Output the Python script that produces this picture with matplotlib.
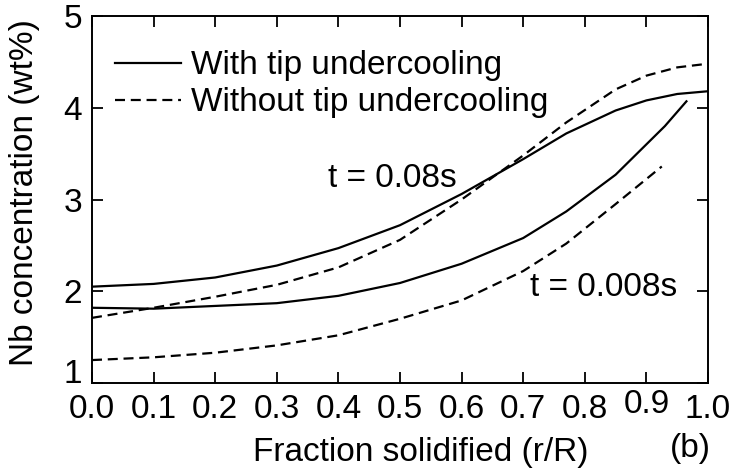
import matplotlib
matplotlib.use("Agg")
import matplotlib.pyplot as plt
from matplotlib import transforms

plt.rcParams.update({
    "font.family": ["Liberation Sans", "DejaVu Sans"], "font.size": 24,
    "axes.linewidth": 1.4,
})

# t = 0.08 s, fraction solidified (r/R) vs Nb wt%
x_08 = [0.0, 0.1, 0.2, 0.3, 0.4, 0.5, 0.6, 0.7, 0.77, 0.85, 0.9, 0.95, 1.0]
with_08 = [2.05, 2.08, 2.15, 2.28, 2.47, 2.72, 3.06, 3.44, 3.72, 3.97, 4.08, 4.15, 4.18]
without_08 = [1.71, 1.82, 1.94, 2.07, 2.26, 2.56, 3.00, 3.48, 3.84, 4.20, 4.35, 4.44, 4.48]
# t = 0.008 s
x_with_008 = [0.0, 0.1, 0.2, 0.3, 0.4, 0.5, 0.6, 0.7, 0.77, 0.85, 0.93, 0.965]
with_008 = [1.82, 1.81, 1.84, 1.87, 1.95, 2.09, 2.30, 2.58, 2.87, 3.27, 3.80, 4.07]
x_without_008 = [0.0, 0.1, 0.2, 0.3, 0.4, 0.5, 0.6, 0.7, 0.77, 0.85, 0.925]
without_008 = [1.25, 1.28, 1.33, 1.41, 1.52, 1.70, 1.90, 2.22, 2.52, 2.95, 3.36]

xticks = [0.0, 0.1, 0.2, 0.3, 0.4, 0.5, 0.6, 0.7, 0.8, 0.9, 1.0]
yticks = [1, 2, 3, 4, 5]

fig = plt.figure(figsize=(7.34, 4.71), dpi=100)
ax = fig.add_axes([92 / 734, 1 - 383 / 471, 616 / 734, 367 / 471])

lw = 1.6
dash = (4.5, 2.6)
ax.plot(x_08, with_08, color="black", lw=lw, label="With tip undercooling")
ax.plot(x_08, without_08, color="black", lw=lw, ls=(0, dash), label="Without tip undercooling")
ax.plot(x_with_008, with_008, color="black", lw=lw)
ax.plot(x_without_008, without_008, color="black", lw=lw, ls=(0, dash))

ax.set_xlim(0, 1)
ax.set_ylim(1, 5)
ax.set_xticks(xticks)
ax.set_xticklabels(["%.1f" % v for v in xticks])
ax.set_yticks(yticks)
ax.tick_params(direction="in", length=8, width=1.3, top=True, right=True, pad=7)
ax.tick_params(axis="x", pad=8)

# the "1" sits on the bottom spine, "0.9" is raised a little in the original
ylabs = ax.get_yticklabels()
ylabs[0].set_va("baseline")
xlabs = ax.get_xticklabels()
xlabs[9].set_transform(xlabs[9].get_transform() +
                       transforms.ScaledTranslation(0, 5 / 100, fig.dpi_scale_trans))

ax.text(0.383, 3.23, "t = 0.08s", va="center", ha="left")
ax.text(0.711, 2.04, "t = 0.008s", va="center", ha="left")

ax.set_xlabel("Fraction solidified (r/R)", va="center")
ax.xaxis.set_label_coords(0.534, -0.19)
ax.set_ylabel("Nb concentration (wt%)", va="center")
ax.yaxis.set_label_coords(-0.11, 0.52)
fig.text(690 / 734, 1 - 448 / 471, "(b)", ha="center", va="center")

ax.legend(loc="upper left", frameon=False, handlelength=1.97, handletextpad=0.3,
          borderaxespad=0.0, labelspacing=0.18, bbox_to_anchor=(0.016, 0.943))

fig.savefig("out.png", dpi=100)
